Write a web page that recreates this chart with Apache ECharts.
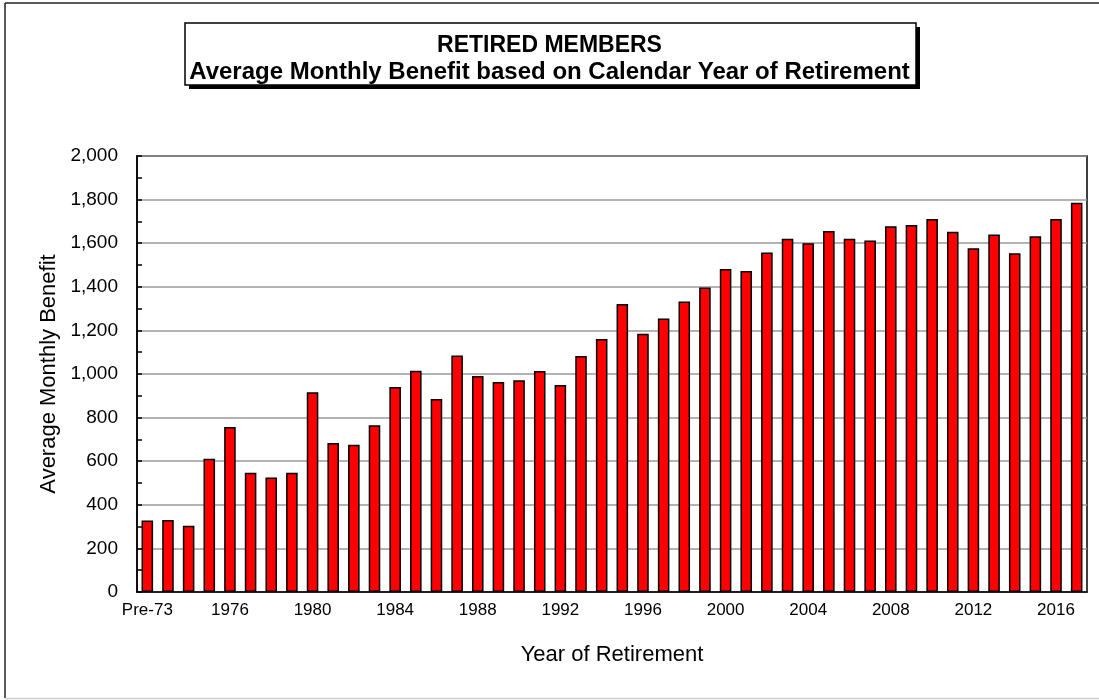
<!DOCTYPE html>
<html>
<head>
<meta charset="utf-8">
<script src="https://cdn.jsdelivr.net/npm/echarts@6/dist/echarts.min.js"></script>
<style>
html,body{margin:0;padding:0;background:#fff;}
#chart{width:1099px;height:700px;}
</style>
</head>
<body>
<div id="chart"></div>
<script>
const titleText = 'RETIRED MEMBERS';
const subtitleText = 'Average Monthly Benefit based on Calendar Year of Retirement';
const xAxisTitle = 'Year of Retirement';
const yAxisTitle = 'Average Monthly Benefit';

const categories = ['Pre-73','1973','1974','1975','1976','1977','1978','1979','1980','1981','1982','1983','1984','1985','1986','1987','1988','1989','1990','1991','1992','1993','1994','1995','1996','1997','1998','1999','2000','2001','2002','2003','2004','2005','2006','2007','2008','2009','2010','2011','2012','2013','2014','2015','2016','2017'];

const avgBenefit = [328,330,304,611,757,547,525,547,916,684,676,765,940,1015,885,1085,991,963,971,1014,950,1082,1160,1321,1185,1255,1333,1397,1482,1472,1557,1620,1600,1656,1620,1612,1678,1684,1711,1652,1577,1640,1554,1632,1711,1785];

const yMin = 0, yMax = 2000, yStep = 200;

const FONT = '"Liberation Sans", Arial, Helvetica, sans-serif';

const chart = echarts.init(document.getElementById('chart'), null, {renderer: 'canvas'});

chart.setOption({
  backgroundColor: '#ffffff',
  animation: false,
  textStyle: {fontFamily: FONT},
  title: {
    text: titleText,
    subtext: subtitleText,
    left: 'center',
    top: 29,
    itemGap: 3,
    textStyle: {fontFamily: FONT, fontSize: 23, fontWeight: 'bold', color: '#000'},
    subtextStyle: {fontFamily: FONT, fontSize: 24, fontWeight: 'bold', color: '#000'}
  },
  graphic: [
    {type: 'line', z: -10, silent: true, shape: {x1: 5, y1: 3, x2: 5, y2: 698},
     style: {stroke: '#222', lineWidth: 1.5}},
    {type: 'line', z: -10, silent: true, shape: {x1: 5, y1: 3, x2: 1099, y2: 3},
     style: {stroke: '#222', lineWidth: 1.5}},
    {type: 'line', z: -10, silent: true, shape: {x1: 5, y1: 698.5, x2: 1099, y2: 698.5},
     style: {stroke: '#cfcfcf', lineWidth: 1.5}},
    {type: 'rect', z: -5, silent: true, shape: {x: 189, y: 27, width: 731, height: 62},
     style: {fill: '#000'}},
    {type: 'rect', z: -4, silent: true, shape: {x: 185, y: 23, width: 731, height: 62},
     style: {fill: '#fff', stroke: '#000', lineWidth: 1.5}}
  ],
  grid: {
    left: 137, right: 12, top: 156, bottom: 108,
    show: true, borderColor: '#000', borderWidth: 1.5, backgroundColor: 'transparent',
    containLabel: false
  },
  xAxis: {
    type: 'category',
    data: categories,
    name: xAxisTitle,
    nameLocation: 'middle',
    nameGap: 52,
    nameTextStyle: {fontFamily: FONT, fontSize: 22, color: '#000'},
    axisLine: {show: true, lineStyle: {color: '#000', width: 1.5}},
    axisTick: {show: false},
    axisLabel: {interval: 3, fontFamily: FONT, fontSize: 17, color: '#000', margin: 10},
    splitLine: {show: false}
  },
  yAxis: {
    type: 'value',
    min: yMin, max: yMax, interval: yStep,
    name: yAxisTitle,
    nameLocation: 'middle',
    nameGap: 74,
    nameRotate: 90,
    nameTextStyle: {fontFamily: FONT, fontSize: 22, color: '#000'},
    axisLine: {show: true, lineStyle: {color: '#000', width: 1.5}},
    axisTick: {show: true, inside: true, length: 5, lineStyle: {color: '#000', width: 1.5}},
    minorTick: {show: true, splitNumber: 2, length: 5, lineStyle: {color: '#000', width: 1.5}},
    axisLabel: {
      fontFamily: FONT, fontSize: 19, color: '#000', margin: 19,
      formatter: v => v.toLocaleString('en-US')
    },
    splitLine: {show: true, lineStyle: {color: '#9a9a9a', width: 1.5}}
  },
  series: [{
    type: 'bar',
    data: avgBenefit,
    barCategoryGap: '44%',
    itemStyle: {color: '#ff0000', borderColor: '#000', borderWidth: 1.5}
  }]
});
</script>
</body>
</html>
